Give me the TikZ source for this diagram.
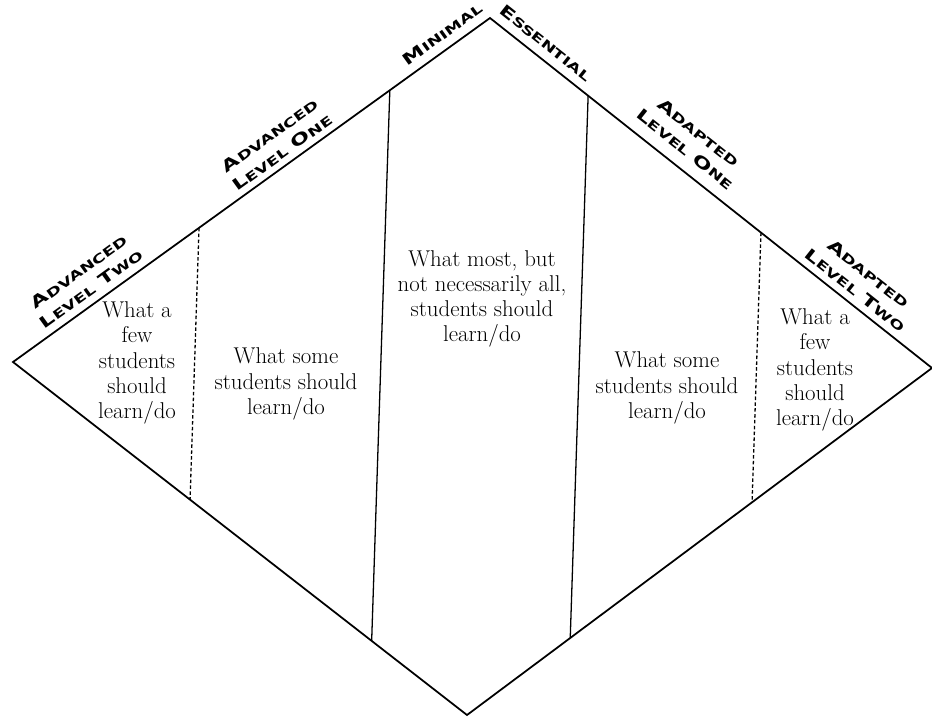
\documentclass[tikz,border=0pt]{standalone}
\usepackage{fontspec}
\usetikzlibrary{calc}
\newfontfamily\tagfont{DejaVu Sans}[FakeStretch=1.45]
\newcommand\capword[2]{{\fontsize{13.5}{18}\selectfont#1}{\fontsize{10.5}{18}\selectfont#2}}

\begin{document}
\begin{tikzpicture}[x=0.03cm, y=-0.03cm,
		every node/.style={align=center, inner sep=0pt},
		edgelabel/.style={font=\tagfont\bfseries\fontsize{13.5}{18}\selectfont},
		regiontext/.style={font=\fontsize{19.5}{21.5}\selectfont}]
			\useasboundingbox (0,0) rectangle (932,717);
			% \draw[help lines, step=50] (0,0) grid (932,717);
			\coordinate (left) at (13,362);
			\coordinate (top) at (490,18);
			\coordinate (right) at (932,368);
			\coordinate (bottom) at (467,715);
			\draw[line width=1.5pt, line join=miter] (left) -- (top) -- (right) -- (bottom) -- cycle;

			\foreach \name/\t in {dashl/0.39, solidl/0.79} {
				\coordinate (\name-up) at ($(left)!\t!(top)$);
				\coordinate (\name-dn) at ($(left)!\t!(bottom)$);
			}
			\foreach \name/\t in {solidr/0.222, dashr/0.613} {
				\coordinate (\name-up) at ($(top)!\t!(right)$);
				\coordinate (\name-dn) at ($(bottom)!\t!(right)$);
			}
			\draw[line width=1.1pt] (solidl-up) -- (solidl-dn);
			\draw[line width=1.1pt] (solidr-up) -- (solidr-dn);
			\draw[line width=1.1pt, dash pattern=on 3pt off 2pt] (dashl-up) -- (dashl-dn);
			\draw[line width=1.1pt, dash pattern=on 3pt off 2pt] (dashr-up) -- (dashr-dn);

			\node[edgelabel, rotate=35.8] (advtwo) at (85,280) {\capword{A}{DVANCED}\\\capword{L}{EVEL} \capword{T}{WO}};
			\node[edgelabel, rotate=35.8] (advone) at (276,144) {\capword{A}{DVANCED}\\\capword{L}{EVEL} \capword{O}{NE}};
			\node[edgelabel, rotate=35.8] (minimal) at (442,34) {\capword{M}{INIMAL}};
			\node[edgelabel, rotate=-38.4] (essential) at (546,43) {\capword{E}{SSENTIAL}};
			\node[edgelabel, rotate=-38.4] (adpone) at (692,141) {\capword{A}{DAPTED}\\\capword{L}{EVEL} \capword{O}{NE}};
			\node[edgelabel, rotate=-38.4] (adptwo) at (862,282) {\capword{A}{DAPTED}\\\capword{L}{EVEL} \capword{T}{WO}};

			\node[regiontext] (fewleft) at (137,363) {What a\\few\\students\\should\\learn/do};
			\node[regiontext] (someleft) at (286,384) {What some\\students should\\learn/do};
			\node[regiontext] (most) at (482,299) {What most, but\\not necessarily all,\\students should\\learn/do};
			\node[regiontext] (someright) at (667,388) {What some\\students should\\learn/do};
			\node[regiontext] (fewright) at (815,370) {What a\\few\\students\\should\\learn/do};
		\end{tikzpicture}
\end{document}
